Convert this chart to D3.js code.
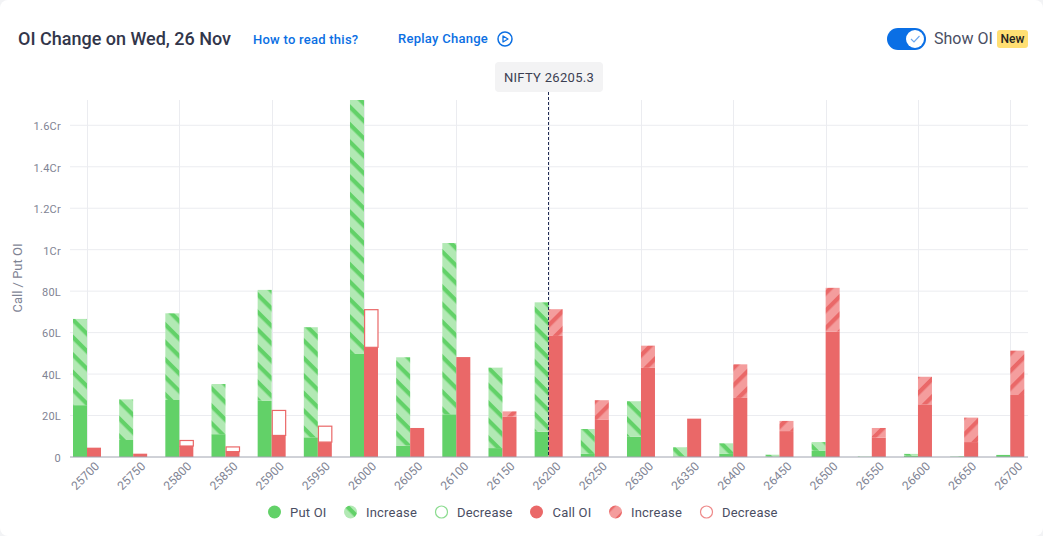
<!DOCTYPE html>
<html><head><meta charset="utf-8">
<script src="https://cdn.jsdelivr.net/npm/d3@7"></script>
<style>
html,body{margin:0;padding:0;background:#fff;overflow:hidden}
text{font-family:Roboto,sans-serif}
</style></head><body>
<svg id="c" width="1043" height="536"></svg>
<script>
const strikes=[25700,25750,25800,25850,25900,25950,26000,26050,26100,26150,26200,26250,26300,26350,26400,26450,26500,26550,26600,26650,26700];
// Lakh values; change > 0 = increase, change < 0 = decrease
const putOI=[25,8.2,27.5,11,27.2,9.5,49.7,5.5,20.6,4.3,12.2,1.5,9.8,0.2,1.5,0.2,3,0,0.6,0,1];
const putChange=[41.6,19.6,41.8,24.2,53.4,53.1,122.5,42.6,82.6,38.8,62.4,12,17.1,4.5,5.1,0.9,4.2,0.2,0.9,0.3,0];
const callOI=[4.5,1.6,5.3,2.6,10.4,7.2,52.9,14,48.2,19.5,58.4,17.9,43,18.5,28.5,12.5,60.5,9.3,25.4,7.2,29.9];
const callChange=[0,0,-2.9,-2.5,-12.3,-7.9,-18.4,0,0,2.5,12.9,9.5,10.7,0,16.2,4.9,21.1,4.7,13.3,11.8,21.4];
const yTicks=[0,20,40,60,80,100,120,140,160];
const gridStrikes=[25700,25800,25900,26000,26100,26200,26300,26400,26500,26600,26700];
const spot=26205.3;
const legendItems=[["Put OI","put",268,290],["Increase","putH",344,366],["Decrease","putD",435,457],["Call OI","call",530,552.5],["Increase","callH",609,631],["Decrease","callD",700,722]];

const GREEN="#62d168",GREENL="#b2e9b4",RED="#ea6868",REDL="#f49d9d";
const svg=d3.select("#c");
const defs=svg.append("defs");
const P=12.37;
function pat(id,a,b,rot,off){
  const p=defs.append("pattern").attr("id",id).attr("patternUnits","userSpaceOnUse").attr("width",P).attr("height",P).attr("patternTransform",`rotate(${rot}) translate(0,${off})`);
  p.append("rect").attr("width",P).attr("height",P).attr("fill",b);
  p.append("rect").attr("width",P).attr("height",4.2).attr("fill",a);
}
pat("hp",GREEN,GREENL,45,-0.7);pat("hc",RED,REDL,-45,9.77);

// card corner
svg.append("rect").attr("width",1043).attr("height",536).attr("fill","#f2f3f5");
svg.append("rect").attr("x",0).attr("y",0).attr("width",1043).attr("height",536).attr("rx",8).attr("fill","#fff");

const y=d3.scaleLinear().domain([0,172.2]).range([457,100]);
const x=d3.scalePoint().domain(strikes).range([87,1010.3]);
const sub=d3.scaleBand().domain(["put","call"]).range([-14,14]);
const fmt=v=>v===0?"0":v>=100?(v/100)+"Cr":v+"L";

// grid
const yAxis=d3.axisLeft(y).tickValues(yTicks).tickFormat(fmt).tickSize(0).tickPadding(9);
const gy=svg.append("g").attr("transform","translate(70,0.8)").call(yAxis);
gy.select(".domain").remove();
gy.selectAll("text").attr("fill","#7f8494").attr("font-size",11).attr("letter-spacing",".25px");
svg.append("g").selectAll("line").data(yTicks.slice(1)).join("line")
 .attr("x1",70).attr("x2",1028).attr("y1",d=>y(d)).attr("y2",d=>y(d)).attr("stroke","#ebecf0").attr("stroke-width",1);
svg.append("g").selectAll("line").data(gridStrikes).join("line")
 .attr("x1",d=>Math.round(x(d))+.5).attr("x2",d=>Math.round(x(d))+.5).attr("y1",100).attr("y2",457).attr("stroke","#ebecf0").attr("stroke-width",1);

// bars
const g=svg.append("g");
strikes.forEach((s,i)=>{
  const draw=(key,oi,ch,solid,hatch,edge)=>{
    const X=x(s)+sub(key),W=sub.bandwidth();
    g.append("rect").attr("x",X).attr("width",W).attr("y",y(oi)).attr("height",y(0)-y(oi)).attr("fill",solid);
    if(ch>0){
      g.append("rect").attr("x",X).attr("width",W).attr("y",y(oi+ch)).attr("height",y(oi)-y(oi+ch)).attr("fill",hatch);
    } else if(ch<0){
      const t=oi-ch;
      g.append("rect").attr("x",X+.6).attr("width",W-.6).attr("y",y(t)+.5).attr("height",y(oi)-y(t)-.5).attr("fill","#fff").attr("stroke",edge).attr("stroke-width",1.2);
    }
  };
  draw("put",putOI[i],putChange[i],GREEN,"url(#hp)",GREEN);
  draw("call",callOI[i],callChange[i],RED,"url(#hc)",RED);
});

// x axis
const xAxis=d3.axisBottom(x).tickSize(0).tickPadding(9);
const gx=svg.append("g").attr("transform","translate(0,457)").call(xAxis);
gx.select(".domain").remove();
svg.append("line").attr("x1",70).attr("x2",1028).attr("y1",457).attr("y2",457).attr("stroke","#a0a4b0").attr("stroke-width",1);
gx.selectAll("text").attr("fill","#7f8494").attr("font-size",12).attr("text-anchor","end").attr("dy",0)
 .attr("transform","translate(12.5,10) rotate(-45)").attr("y",0).attr("x",0);

// spot line
svg.append("line").attr("x1",548.5).attr("x2",548.5).attr("y1",92).attr("y2",457).attr("stroke","#1f2a52").attr("stroke-width",1).attr("stroke-dasharray","3 2");
svg.append("rect").attr("x",495).attr("y",62).attr("width",108).attr("height",30).attr("rx",4).attr("fill","#f3f3f4");
svg.append("text").attr("x",549).attr("y",81.5).attr("text-anchor","middle").attr("font-size",13).attr("fill","#3b3f52").attr("letter-spacing",".3px").text("NIFTY "+spot);

// axis title
svg.append("text").attr("transform","translate(22,278) rotate(-90)").attr("text-anchor","middle").attr("font-size",13).attr("fill","#7f8494").text("Call / Put OI");

// header
svg.append("text").attr("x",18).attr("y",45).attr("font-size",18).attr("font-weight",500).attr("fill","#32364a").text("OI Change on Wed, 26 Nov");
svg.append("text").attr("x",253).attr("y",44).attr("font-size",13).attr("font-weight",500).attr("fill","#0b6fe3").attr("letter-spacing",".25px").text("How to read this?");
svg.append("text").attr("x",398).attr("y",43).attr("font-size",13).attr("font-weight",500).attr("fill","#0b6fe3").attr("letter-spacing",".27px").text("Replay Change");
svg.append("circle").attr("cx",505).attr("cy",39).attr("r",7).attr("fill","none").attr("stroke","#0b6fe3").attr("stroke-width",1.5);
svg.append("path").attr("d","M503 36 L508 39 L503 42 Z").attr("fill","none").attr("stroke","#0b6fe3").attr("stroke-width",1.3).attr("stroke-linejoin","round");

// toggle
svg.append("rect").attr("x",887).attr("y",28).attr("width",39).attr("height",22).attr("rx",11).attr("fill","#0a6fe5");
svg.append("circle").attr("cx",915).attr("cy",39).attr("r",9).attr("fill","#fff");
svg.append("path").attr("d","M911 39 L914 42 L919.5 36").attr("fill","none").attr("stroke","#6ea8ee").attr("stroke-width",1.2);
svg.append("text").attr("x",934).attr("y",44).attr("font-size",16).attr("fill","#4a4e63").text("Show OI");
svg.append("rect").attr("x",997).attr("y",30).attr("width",31).attr("height",18).attr("rx",3).attr("fill","#ffdf73");
svg.append("text").attr("x",1012.5).attr("y",43).attr("text-anchor","middle").attr("font-size",12).attr("font-weight",500).attr("fill","#222").text("New");

// legend
const lg=svg.append("g");
legendItems.forEach(([t,k,mx,tx])=>{
  const c=mx+6.5,cy=512;
  const isG=k.startsWith("put");
  if(k==="put"||k==="call") lg.append("circle").attr("cx",c).attr("cy",cy).attr("r",6.5).attr("fill",isG?GREEN:RED);
  else if(k.endsWith("H")) lg.append("circle").attr("cx",c).attr("cy",cy).attr("r",6.5).attr("fill",isG?"url(#hp)":"url(#hc)");
  else lg.append("circle").attr("cx",c).attr("cy",cy).attr("r",6).attr("fill","#fff").attr("stroke",isG?"#8cdc90":"#ee8a8a").attr("stroke-width",1.2);
  lg.append("text").attr("x",tx).attr("y",cy+4.5).attr("font-size",13).attr("fill","#4a4e63").attr("letter-spacing",".2px").text(t);
});
</script></body></html>
